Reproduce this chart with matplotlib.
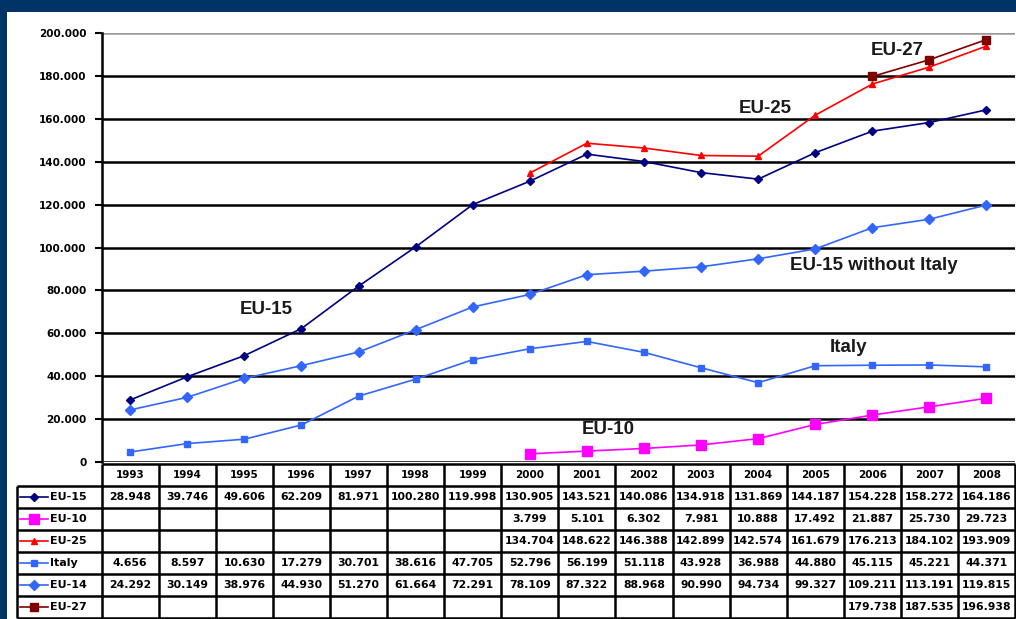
import numpy as np
import matplotlib.pyplot as plt
from matplotlib.patches import Rectangle
from matplotlib.ticker import FuncFormatter

# years shown in the data table under the chart
years = ['1993', '1994', '1995', '1996', '1997', '1998', '1999', '2000',
         '2001', '2002', '2003', '2004', '2005', '2006', '2007', '2008']
nan = np.nan
# series values (units as printed in the table, '.' as thousands separator)
eu15 = [28948, 39746, 49606, 62209, 81971, 100280, 119998, 130905,
        143521, 140086, 134918, 131869, 144187, 154228, 158272, 164186]
eu10 = [nan, nan, nan, nan, nan, nan, nan, 3799,
        5101, 6302, 7981, 10888, 17492, 21887, 25730, 29723]
eu25 = [nan, nan, nan, nan, nan, nan, nan, 134704,
        148622, 146388, 142899, 142574, 161679, 176213, 184102, 193909]
italy = [4656, 8597, 10630, 17279, 30701, 38616, 47705, 52796,
         56199, 51118, 43928, 36988, 44880, 45115, 45221, 44371]
eu14 = [24292, 30149, 38976, 44930, 51270, 61664, 72291, 78109,
        87322, 88968, 90990, 94734, 99327, 109211, 113191, 119815]
eu27 = [nan, nan, nan, nan, nan, nan, nan, nan,
        nan, nan, nan, nan, nan, 179738, 187535, 196938]

series_names = ['EU-15', 'EU-10', 'EU-25', 'Italy', 'EU-14', 'EU-27']
series_vals = [eu15, eu10, eu25, italy, eu14, eu27]
colors = ['#000080', '#ff00ff', '#ff0000', '#3366ff', '#3366ff', '#800000']
markers = ['D', 's', '^', 's', 'D', 's']
msizes = [4.5, 7, 5, 4.5, 5.5, 6]

# labels written on the chart
labels = ['EU-15', 'EU-25', 'EU-27', 'EU-15 without Italy', 'Italy', 'EU-10']
label_x = [2.39, 11.13, 13.43, 13.03, 12.59, 8.38]
label_y = [71000, 165000, 192000, 91600, 53500, 15300]


def fmt(v):
    return f'{v:,.0f}'.replace(',', '.')


W, H = 1016, 619
fig = plt.figure(figsize=(W / 100, H / 100), dpi=100, facecolor='#003366')
fig.patches.append(Rectangle((7 / W, 0), 1 - 7 / W, (H - 12) / H,
                             transform=fig.transFigure, facecolor='white',
                             edgecolor='none', zorder=-10))

left, right, top, bottom = 101.7, 1015, 33, 462
ax = fig.add_axes([left / W, (H - bottom) / H, (right - left) / W,
                   (bottom - top) / H])
ax.set_facecolor('none')
ax.set_xlim(-0.5, 15.5)
ax.set_ylim(0, 200000)
ax.set_xticks([])
ax.set_yticks(np.arange(0, 200001, 20000))
ax.yaxis.set_major_formatter(FuncFormatter(lambda v, p: fmt(v)))
ax.tick_params(axis='y', direction='out', length=5, width=1.5, pad=6,
               labelsize=7.5)
for lab in ax.get_yticklabels():
    lab.set_fontfamily('DejaVu Sans')
    lab.set_fontweight('bold')
for s in ['top', 'right', 'bottom']:
    ax.spines[s].set_visible(False)
ax.spines['left'].set_linewidth(1.8)
ax.yaxis.grid(True, color='black', lw=1.8)
ax.set_axisbelow(True)
ax.get_ygridlines()[-1].set_color('#999999')

x = np.arange(len(years))
for vals, c, m, ms in zip(series_vals, colors, markers, msizes):
    ax.plot(x, vals, color=c, marker=m, markersize=ms, lw=1.2, zorder=3)

for t, lx, ly in zip(labels, label_x, label_y):
    ax.text(lx, ly, t, ha='center', va='center', fontsize=13.5,
            family='Liberation Sans', fontweight='bold', color='#1a1a1a',
            zorder=4)

# data table drawn in column units matching the chart above
lw_col = (left - 17) / 57.08
tax = fig.add_axes([17 / W, 1 / H, (right - 17) / W, (618 - 464) / H])
tax.set_xlim(-0.5 - lw_col, 15.5)
tax.set_ylim(7, 0)
tax.axis('off')
x0 = -0.5 - lw_col
kw = dict(color='black', lw=1.8, clip_on=False)
tax.hlines([0], -0.5, 15.5, **kw)
tax.hlines(np.arange(1, 8), x0, 15.5, **kw)
tax.vlines(np.arange(-0.5, 16), 0, 7, **kw)
tax.vlines([x0], 1, 7, **kw)

for i, yr in enumerate(years):
    tax.text(i, 0.5, yr, ha='center', va='center', fontsize=7.5,
             family='DejaVu Sans', fontweight='bold')

for r, (name, vals, c, m, ms) in enumerate(zip(series_names, series_vals,
                                                colors, markers, msizes)):
    yrow = r + 1.5
    tax.plot([x0 + 0.06, x0 + 0.3, x0 + 0.55], [yrow, yrow, yrow], color=c,
             lw=1.2, marker=m, markersize=ms, markevery=[1], clip_on=False)
    tax.text(x0 + 0.57, yrow, name, ha='left', va='center', fontsize=8,
             family='DejaVu Sans', fontweight='bold')
    for i, v in enumerate(vals):
        if not np.isnan(v):
            tax.text(i, yrow, fmt(v), ha='center', va='center', fontsize=7.8,
                     family='DejaVu Sans', fontweight='bold')

fig.savefig('out.png', dpi=100, facecolor=fig.get_facecolor())
